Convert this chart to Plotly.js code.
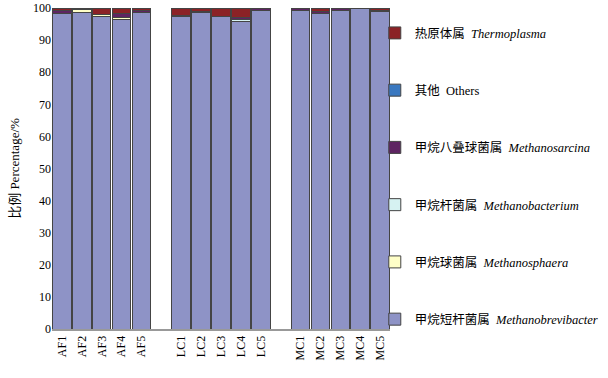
<!DOCTYPE html>
<html>
<head>
<meta charset="utf-8">
<script src="https://cdn.plot.ly/plotly-3.0.1.min.js"></script>
<style>html,body{margin:0;padding:0;background:#fff;}#chart{width:608px;height:378px;}</style>
</head>
<body>
<div id="chart"></div>
<script>
const categories = ['AF1','AF2','AF3','AF4','AF5',' ','LC1','LC2','LC3','LC4','LC5','  ','MC1','MC2','MC3','MC4','MC5'];
const samples = ['AF1','AF2','AF3','AF4','AF5','LC1','LC2','LC3','LC4','LC5','MC1','MC2','MC3','MC4','MC5'];
const methanobrevibacter = [98.3, 98.5, 97.3, 96.5, 98.5, 97.2, 98.5, 97.3, 95.8, 99.3, 99.3, 98.2, 99.2, 99.7, 98.9];
const methanosphaera     = [0.0, 1.0, 0.6, 0.5, 0.0, 0.6, 0.0, 0.0, 0.0, 0.0, 0.0, 0.0, 0.0, 0.0, 0.0];
const methanobacterium   = [0.0, 0.0, 0.0, 0.0, 0.0, 0.0, 0.0, 0.0, 0.6, 0.0, 0.0, 0.0, 0.0, 0.0, 0.0];
const methanosarcina     = [0.8, 0.0, 0.0, 1.2, 0.7, 0.0, 0.5, 0.0, 0.7, 0.7, 0.4, 0.6, 0.8, 0.3, 0.4];
const others             = [0.0, 0.0, 0.0, 0.0, 0.0, 0.0, 0.0, 0.0, 0.0, 0.0, 0.0, 0.0, 0.0, 0.0, 0.0];
const thermoplasma       = [0.9, 0.5, 2.1, 1.8, 0.8, 2.2, 1.0, 2.7, 2.9, 0.0, 0.3, 1.2, 0.0, 0.0, 0.7];
const yTicks = [0,10,20,30,40,50,60,70,80,90,100];

const seriesNames = [
  '甲烷短杆菌属  <i>Methanobrevibacter</i>',
  '甲烷球菌属  <i>Methanosphaera</i>',
  '甲烷杆菌属  <i>Methanobacterium</i>',
  '甲烷八叠球菌属  <i>Methanosarcina</i>',
  '其他  Others',
  '热原体属  <i>Thermoplasma</i>'
];
const seriesValues = [methanobrevibacter, methanosphaera, methanobacterium, methanosarcina, others, thermoplasma];
const seriesColors = ['#8E93C6', '#FFFFC8', '#D6F2F2', '#5E2462', '#3A78C0', '#8B2226'];

const traces = seriesValues.map((vals, i) => ({
  type: 'bar',
  x: samples,
  y: vals,
  name: seriesNames[i],
  legendgroup: 'g' + i,
  legendrank: 1000 - i,
  marker: {color: seriesColors[i], line: {color: '#444', width: 1}},
  hoverinfo: 'x+y+name'
}));

const font = 'Liberation Serif, Noto Sans CJK SC, serif';
const layout = {
  width: 608, height: 378,
  margin: {l: 52, r: 218, t: 8, b: 49, autoexpand: false},
  barmode: 'stack',
  bargap: 0.07,
  showlegend: true,
  paper_bgcolor: '#fff', plot_bgcolor: '#fff',
  font: {family: font, size: 12, color: '#000'},
  xaxis: {
    type: 'category', categoryorder: 'array', categoryarray: categories,
    tickangle: -90, showgrid: false, showline: true, linecolor: '#999', linewidth: 2,
    ticks: '', tickfont: {family: font, size: 12, color: '#000'}
  },
  yaxis: {
    range: [0, 100], tickvals: yTicks, showgrid: false, zeroline: false, showline: false,
    ticks: '', tickfont: {family: font, size: 12, color: '#000'},
    title: {text: '比例 Percentage/%', font: {family: font, size: 13, color: '#000'}, standoff: 10}
  },
  legend: {
    x: 0.955, xanchor: 'left', y: 0.968, yanchor: 'top',
    traceorder: 'grouped', tracegroupgap: 38,
    font: {family: font, size: 12.5, color: '#000'},
    bgcolor: 'rgba(0,0,0,0)', itemwidth: 30
  }
};
Plotly.newPlot('chart', traces, layout, {displayModeBar: false, staticPlot: true});
</script>
</body>
</html>
